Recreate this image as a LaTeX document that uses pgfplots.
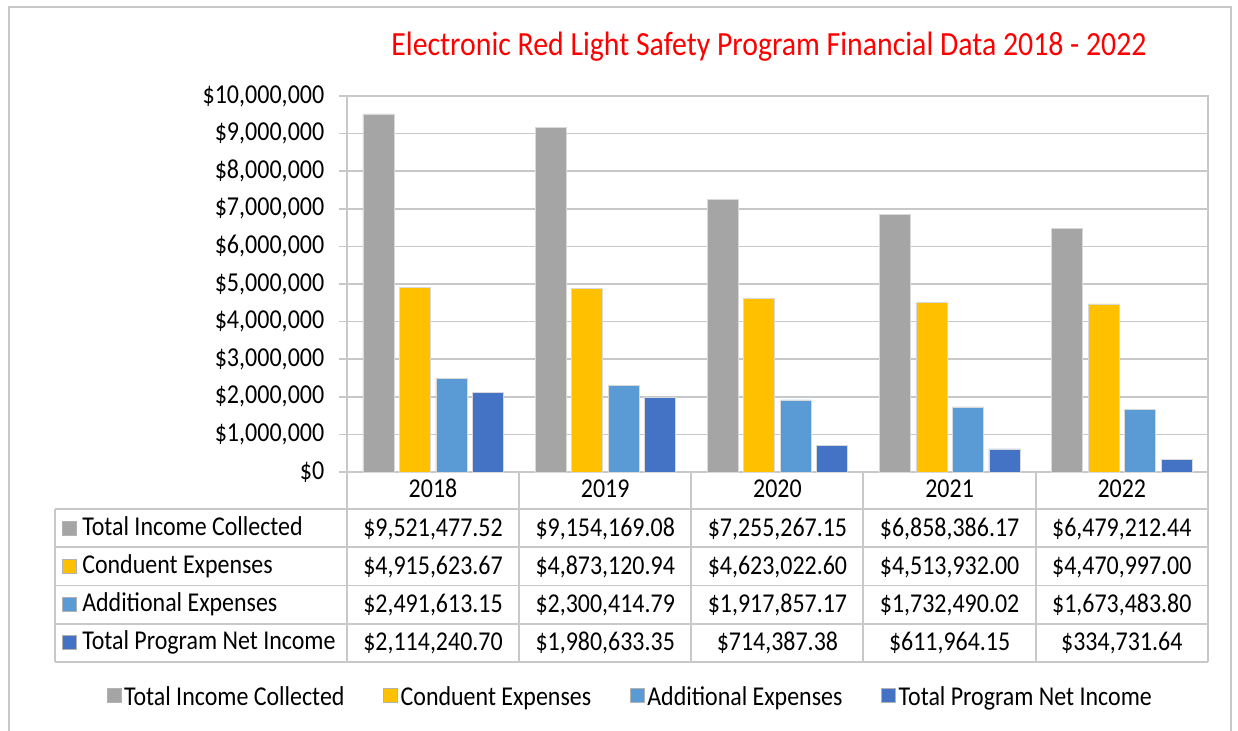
\documentclass[border=0pt]{standalone}
\usepackage{fontspec}
\setmainfont{Carlito}[FakeStretch=0.88]
\usepackage{pgfplots}
\pgfplotsset{compat=1.18}
\definecolor{cgray}{HTML}{A5A5A5}
\definecolor{cgold}{HTML}{FFC000}
\definecolor{clblue}{HTML}{5B9BD5}
\definecolor{cdblue}{HTML}{4472C4}
\definecolor{cline}{HTML}{C8C8C8}
\newcommand\tabfont{\fontsize{20.4}{24}\selectfont}
\newcommand\tickfont{\fontsize{20.5}{24}\selectfont}
\newcommand\titlefont{\fontsize{25.4}{30}\selectfont}
\begin{document}
\begin{tikzpicture}
\useasboundingbox (0,0) rectangle (928.5pt,-548.25pt);
\begin{scope}[x=0.75pt,y=-0.75pt]
\draw[cline, line width=1.5pt] (9,760) -- (9,7) -- (1231,7) -- (1231,760);
\node[red, font=\titlefont, anchor=base] at (769,56) {Electronic Red Light Safety Program Financial Data 2018 - 2022};
\end{scope}
\begin{axis}[
  at={(260.25pt,-354pt)}, anchor=south west,
  scale only axis, width=645.75pt, height=282pt,
  xmin=-0.5, xmax=4.5, ymin=0, ymax=10000000,
  xtick=\empty,
  ytick={0,1000000,2000000,3000000,4000000,5000000,6000000,7000000,8000000,9000000,10000000},
  yticklabels={{\$0},{\$1,000,000},{\$2,000,000},{\$3,000,000},{\$4,000,000},{\$5,000,000},{\$6,000,000},{\$7,000,000},{\$8,000,000},{\$9,000,000},{\$10,000,000}},
  scaled y ticks=false,
  yticklabel style={font=\tickfont, anchor=east, xshift=-7.5pt},
  ymajorgrids, grid style={cline, line width=1.1pt},
  axis line style={cline, line width=1.1pt},
  tick style={cline, line width=1.1pt},
  tick align=outside, major tick length=6pt,
  ytick pos=left,
  ybar, bar width=0.18,
  clip=false,
  legend columns=4,
  legend style={font=\tabfont, draw=none, fill=none, at={(0.3293,-0.598)}, anchor=center,
    /tikz/every even column/.append style={column sep=27pt}},
  legend image code/.code={\draw[#1, draw=gray!60, line width=0.6pt] (0pt,-4pt) rectangle (10.5pt,6.5pt);},
]
\addplot[fill=cgray, draw=gray!30, line width=0.5pt, bar shift=-0.318] coordinates {(0,9521477.52) (1,9154169.08) (2,7255267.15) (3,6858386.17) (4,6479212.44)};
\addlegendentry{Total Income Collected}
\addplot[fill=cgold, draw=gray!30, line width=0.5pt, bar shift=-0.106] coordinates {(0,4915623.67) (1,4873120.94) (2,4623022.60) (3,4513932.00) (4,4470997.00)};
\addlegendentry{Conduent Expenses}
\addplot[fill=clblue, draw=gray!30, line width=0.5pt, bar shift=0.106] coordinates {(0,2491613.15) (1,2300414.79) (2,1917857.17) (3,1732490.02) (4,1673483.80)};
\addlegendentry{Additional Expenses}
\addplot[fill=cdblue, draw=gray!30, line width=0.5pt, bar shift=0.318] coordinates {(0,2114240.70) (1,1980633.35) (2,714387.38) (3,611964.15) (4,334731.64)};
\addlegendentry{Total Program Net Income}
\end{axis}
\begin{scope}[x=0.75pt,y=-0.75pt]
\foreach \yy in {509,547,585.5,624,662} \draw[cline,line width=1.1pt] (55,\yy)--(1208,\yy);
\draw[cline,line width=1.1pt] (55,509)--(55,662);
\foreach \xx in {347,519,691,863,1036,1208} \draw[cline,line width=1.1pt] (\xx,472)--(\xx,662);
\foreach \yr [count=\i from 0] in {2018,2019,2020,2021,2022}
  \node[font=\tabfont, anchor=base] at (433+\i*172.2,497) {\yr};
\foreach \lab/\col [count=\r from 0] in {Total Income Collected/cgray, Conduent Expenses/cgold, Additional Expenses/clblue, Total Program Net Income/cdblue} {
  \fill[\col, draw=gray!60, line width=0.6pt] (62,521+\r*38.25) rectangle (76,535+\r*38.25);
  \node[font=\tabfont, anchor=base west, inner sep=0pt] at (82,535+\r*38.25) {\lab};
}
\foreach \v [count=\i from 0] in {{\$9,521,477.52},{\$9,154,169.08},{\$7,255,267.15},{\$6,858,386.17},{\$6,479,212.44}}
  \node[font=\tabfont, anchor=base] at (433+\i*172.2,536) {\v};
\foreach \v [count=\i from 0] in {{\$4,915,623.67},{\$4,873,120.94},{\$4,623,022.60},{\$4,513,932.00},{\$4,470,997.00}}
  \node[font=\tabfont, anchor=base] at (433+\i*172.2,574.25) {\v};
\foreach \v [count=\i from 0] in {{\$2,491,613.15},{\$2,300,414.79},{\$1,917,857.17},{\$1,732,490.02},{\$1,673,483.80}}
  \node[font=\tabfont, anchor=base] at (433+\i*172.2,612.5) {\v};
\foreach \v [count=\i from 0] in {{\$2,114,240.70},{\$1,980,633.35},{\$714,387.38},{\$611,964.15},{\$334,731.64}}
  \node[font=\tabfont, anchor=base] at (433+\i*172.2,650.75) {\v};
\end{scope}
\end{tikzpicture}
\end{document}
